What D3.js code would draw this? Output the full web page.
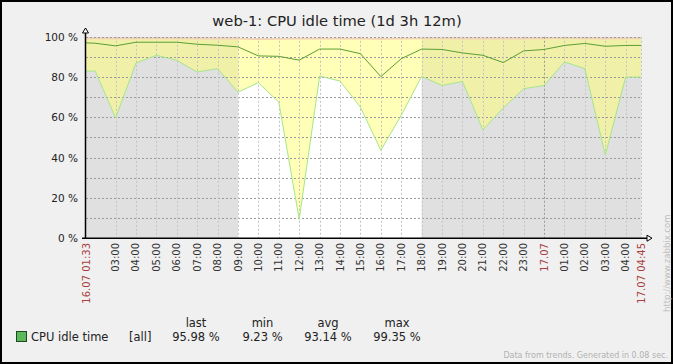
<!DOCTYPE html>
<html>
<head>
<meta charset="utf-8">
<script src="https://cdn.jsdelivr.net/npm/d3@7"></script>
<style>
  body { margin: 0; background: #f0f0f0; }
  svg { display: block; }
  text { font-family: "DejaVu Sans", sans-serif; }
</style>
</head>
<body>
<svg id="chart"></svg>
<script>
// chart data
const title = "web-1: CPU idle time (1d 3h 12m)";
const times = [
  "2013-07-16 01:33", "2013-07-16 02:00", "2013-07-16 03:00", "2013-07-16 04:00",
  "2013-07-16 05:00", "2013-07-16 06:00", "2013-07-16 07:00", "2013-07-16 08:00",
  "2013-07-16 09:00", "2013-07-16 10:00", "2013-07-16 11:00", "2013-07-16 12:00",
  "2013-07-16 13:00", "2013-07-16 14:00", "2013-07-16 15:00", "2013-07-16 16:00",
  "2013-07-16 17:00", "2013-07-16 18:00", "2013-07-16 19:00", "2013-07-16 20:00",
  "2013-07-16 21:00", "2013-07-16 22:00", "2013-07-16 23:00", "2013-07-17 00:00",
  "2013-07-17 01:00", "2013-07-17 02:00", "2013-07-17 03:00", "2013-07-17 04:00",
  "2013-07-17 04:45"
];
const minVals = [83, 83, 59.7, 87, 90.8, 88.3, 82.5, 84.2, 72.5, 77.2, 67.5, 9.23, 80.5, 78,
  65, 43.6, 61, 80.3, 75.8, 77.8, 53.7, 64.7, 74.2, 75.8, 87.5, 84.2, 41.2, 80, 80];
const avgVals = [97, 96.8, 95.5, 97.3, 97.3, 97.3, 96.3, 95.8, 95, 90.5, 90.3, 88.4, 93.9, 93.9,
  91.6, 80.2, 89.1, 93.9, 93.7, 92, 90.8, 87.2, 93, 93.7, 95.7, 96.7, 95.3, 95.7, 95.7];
const maxVals = [99.3, 99.3, 99.2, 99.3, 99.3, 99.3, 99.2, 99.2, 99.1, 98.9, 99.0, 99.1, 99.2, 99.2,
  99.2, 99.0, 99.2, 99.3, 99.3, 99.2, 99.2, 99.1, 99.2, 99.3, 99.35, 99.3, 99.2, 99.3, 99.3];
const yTicks = [0, 20, 40, 60, 80, 100];
const nightSpans = [["2013-07-16 01:33", "2013-07-16 09:00"], ["2013-07-16 18:00", "2013-07-17 04:45"]];
const legendName = "CPU idle time";
const legendFunc = "[all]";
const legendCols = ["last", "min", "avg", "max"];
const legendVals = ["95.98 %", "9.23 %", "93.14 %", "99.35 %"];
const footer = "Data from trends. Generated in 0.08 sec.";
const watermark = "http://www.zabbix.com";

const W = 673, H = 364;
const parse = d3.timeParse("%Y-%m-%d %H:%M");
const pts = times.map((t, i) => ({t: parse(t), min: minVals[i], avg: avgVals[i], max: maxVals[i]}));
const t0 = pts[0].t, t1 = pts[pts.length - 1].t;

const x = d3.scaleTime().domain([t0, t1]).range([86, 641]);
const y = d3.scaleLinear().domain([0, 100]).range([238, 36.8]);

const svg = d3.select("#chart").attr("width", W).attr("height", H);

svg.append("rect")
  .attr("x", 1).attr("y", 1).attr("width", W - 2).attr("height", H - 2)
  .attr("fill", "#f0f0f0").attr("stroke", "#000").attr("stroke-width", 2);

svg.append("text")
  .attr("x", 337).attr("y", 25.5)
  .attr("text-anchor", "middle")
  .style("font-size", "14.7px").attr("fill", "#222")
  .text(title);

// plot background: white day, grey night
const plot = svg.append("g");
plot.append("rect")
  .attr("x", x(t0)).attr("y", y(100)).attr("width", x(t1) - x(t0)).attr("height", y(0) - y(100))
  .attr("fill", "#fff");
plot.selectAll(".night").data(nightSpans).enter()
  .append("rect")
  .attr("class", "night")
  .attr("x", d => x(parse(d[0])))
  .attr("width", d => x(parse(d[1])) - x(parse(d[0])))
  .attr("y", y(100)).attr("height", y(0) - y(100))
  .attr("fill", "#e0e0e0");

// min..max band
const band = d3.area()
  .x(d => x(d.t)).y0(d => y(d.min)).y1(d => y(d.max));
plot.append("path").datum(pts)
  .attr("d", band)
  .attr("fill", "#ffff70").attr("fill-opacity", 0.5);

// grid
const hours = d3.timeHour.range(d3.timeHour.offset(d3.timeHour.ceil(t0), 1), t1);
const grid = svg.append("g");
grid.selectAll(".hg").data(d3.range(10, 101, 10)).enter()
  .append("line")
  .attr("x1", 86).attr("x2", 641)
  .attr("y1", d => Math.round(y(d)) + 0.5).attr("y2", d => Math.round(y(d)) + 0.5)
  .attr("stroke", "#9a9a9a").attr("stroke-dasharray", "2,2");
grid.selectAll(".vg").data(hours.concat([t1])).enter()
  .append("line")
  .attr("x1", d => Math.round(x(d)) + 0.5).attr("x2", d => Math.round(x(d)) + 0.5)
  .attr("y1", y(100)).attr("y2", y(0))
  .attr("stroke", d => (d.getHours() === 0 && d.getMinutes() === 0) ? "#9a9a9a" : "#c4c4c4")
  .attr("stroke-dasharray", "2,2");

// lines
const line = key => d3.line().x(d => x(d.t)).y(d => y(d[key]));
plot.append("path").datum(pts).attr("d", line("max"))
  .attr("fill", "none").attr("stroke", "#f2d2b6").attr("stroke-width", 2);
svg.append("path").datum(pts).attr("d", line("min"))
  .attr("fill", "none").attr("stroke", "#a6e68a").attr("stroke-width", 1);
svg.append("path").datum(pts).attr("d", line("avg"))
  .attr("fill", "none").attr("stroke", "#5c9e34").attr("stroke-width", 1);

// axes
const ax = svg.append("g");
ax.append("line").attr("x1", 85.5).attr("x2", 85.5).attr("y1", 33).attr("y2", 239)
  .attr("stroke", "#000").attr("stroke-width", 1.5);
ax.append("line").attr("x1", 82).attr("x2", 647).attr("y1", 238.2).attr("y2", 238.2)
  .attr("stroke", "#000").attr("stroke-width", 1.6);
ax.append("path").attr("d", "M85.5,28 L82.5,33 L88.5,33 Z")
  .attr("fill", "#fff").attr("stroke", "#000");
ax.append("path").attr("d", "M652,238.2 L647,235.2 L647,241.2 Z")
  .attr("fill", "#fff").attr("stroke", "#000");

ax.selectAll(".yl").data(yTicks).enter()
  .append("text")
  .attr("x", 78).attr("y", d => y(d) + 4)
  .attr("text-anchor", "end")
  .style("font-size", "10.5px").attr("fill", "#222")
  .text(d => d + " %");

const fmtHour = d3.timeFormat("%H:%M");
const fmtDate = d3.timeFormat("%d.%m");
const fmtFull = d3.timeFormat("%d.%m %H:%M");
const xLabels = [{t: t0, s: fmtFull(t0), red: true}]
  .concat(hours.map(h => (h.getHours() === 0) ? {t: h, s: fmtDate(h), red: true} : {t: h, s: fmtHour(h), red: false}))
  .concat([{t: t1, s: fmtFull(t1), red: true}]);
ax.selectAll(".xl").data(xLabels).enter()
  .append("text")
  .attr("transform", d => `translate(${x(d.t) + 3.5},243) rotate(-90)`)
  .attr("text-anchor", "end")
  .style("font-size", "10px")
  .attr("fill", d => d.red ? "#a84040" : "#333")
  .text(d => d.s);

// legend
const lg = svg.append("g");
lg.append("rect").attr("x", 16.5).attr("y", 331.5).attr("width", 10).attr("height", 10)
  .attr("fill", "#5cb85c").attr("stroke", "#1d4a1d");
lg.append("text").attr("x", 31).attr("y", 341).style("font-size", "11.5px").attr("fill", "#222")
  .text(legendName);
lg.append("text").attr("x", 129).attr("y", 341).style("font-size", "11.5px").attr("fill", "#222")
  .text(legendFunc);
const colX = [196, 262.5, 328, 397];
lg.selectAll(".lh").data(legendCols).enter()
  .append("text")
  .attr("x", (d, i) => colX[i]).attr("y", 326.5)
  .attr("text-anchor", "middle").style("font-size", "11.5px").attr("fill", "#222")
  .text(d => d);
lg.selectAll(".lv").data(legendVals).enter()
  .append("text")
  .attr("x", (d, i) => colX[i]).attr("y", 341)
  .attr("text-anchor", "middle").style("font-size", "11.5px").attr("fill", "#222")
  .text(d => d);

svg.append("text").attr("x", 668).attr("y", 358.3)
  .attr("text-anchor", "end").style("font-size", "8px").attr("fill", "#b0b0b0")
  .text(footer);
svg.append("text")
  .attr("transform", "translate(669.5,312) rotate(-90)")
  .style("font-size", "8.5px").attr("fill", "#bdbdbd")
  .text(watermark);
</script>
</body>
</html>
